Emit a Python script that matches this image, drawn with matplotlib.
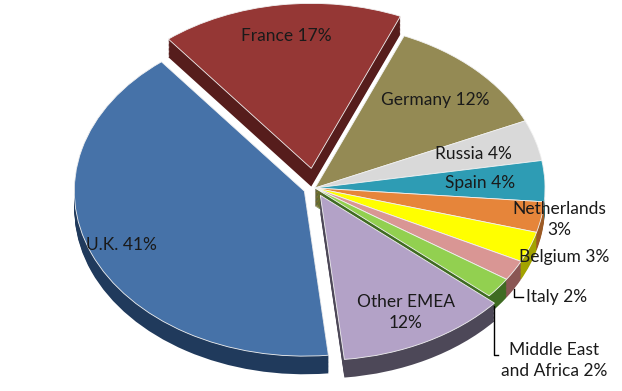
import matplotlib
matplotlib.use("Agg")
import matplotlib.pyplot as plt
import numpy as np

## data (clockwise from France)
regions = ["France", "Germany", "Russia", "Spain", "Netherlands", "Belgium",
           "Italy", "Middle East\nand Africa", "Other EMEA", "U.K."]
shares = [17, 12, 4, 4, 3, 3, 2, 2, 12, 41]
label_texts = ["France 17%", "Germany 12%", "Russia 4%", "Spain 4%",
               "Netherlands\n3%", "Belgium 3%", "Italy 2%",
               "Middle East\nand Africa 2%", "Other EMEA\n12%", "U.K. 41%"]

## style
top_colors = ["#953735", "#948A54", "#D9D9D9", "#2E9CB4", "#E6853A",
              "#FFFF00", "#D99694", "#92D050", "#B3A2C7", "#4672A8"]
side_colors = ["#561D1C", "#5E5633", "#8C8C8C", "#1D6676", "#9C5A24",
               "#A3A300", "#8A5654", "#3F6B22", "#4D4858", "#203A5C"]
explode = [0.12, 0, 0, 0, 0, 0, 0, 0, 0.05, 0.05]
label_r = [0.81, 0.75, 0.72, 0.72, 1.08, 1.16, None, None, 0.8, 0.86]
start = 128.4
depth = 0.11
fs = 12.5

plt.rcParams['font.family'] = ['Lato', 'DejaVu Sans']

fig = plt.figure(figsize=(6.22, 3.91), dpi=100)
ax = fig.add_axes([0, 0, 1, 1])

## side walls, stacked layers
n = 14
for k in range(n, 0, -1):
    ax.pie(shares, explode=explode, colors=side_colors, startangle=start,
           counterclock=False, center=(0, -depth * k / n),
           wedgeprops=dict(linewidth=0))

## top face
wedges, _ = ax.pie(shares, explode=explode, colors=top_colors, startangle=start,
                   counterclock=False, center=(0, 0),
                   wedgeprops=dict(linewidth=0.6, edgecolor="#f2f2f2"))

## labels
for i, w in enumerate(wedges):
    mid = np.deg2rad((w.theta1 + w.theta2) / 2)
    cx, cy = w.center
    if label_r[i] is not None:
        r = label_r[i]
        ax.text(cx + r * np.cos(mid), cy + r * np.sin(mid), label_texts[i],
                ha="center", va="center", fontsize=fs, color="#1a1a1a",
                linespacing=1.35)
    else:
        ex, ey = cx + np.cos(mid), cy + np.sin(mid) - depth
        if i == 6:
            ty, tx = ey - 0.05, ex + 0.04
            ax.plot([ex, ex, tx], [ey, ty, ty], color="black", lw=1)
            ax.text(tx + 0.01, ty, label_texts[i], ha="left", va="center",
                    fontsize=fs, color="#1a1a1a")
        else:
            ex = ex - 0.02
            ty, tx = ey - 0.3, ex + 0.02
            ax.plot([ex, ex, tx], [ey, ty, ty], color="black", lw=1)
            ax.text(tx + 0.01, ty + 0.08, label_texts[i], ha="left", va="top",
                    fontsize=fs, color="#1a1a1a", multialignment="center",
                    linespacing=1.35)

ax.set_aspect("auto")
ax.set_xlim(-315 / 230, 307 / 230)
ax.set_ylim(-203 / 165, 188 / 165)
ax.axis("off")

fig.savefig("out.png", dpi=100)
